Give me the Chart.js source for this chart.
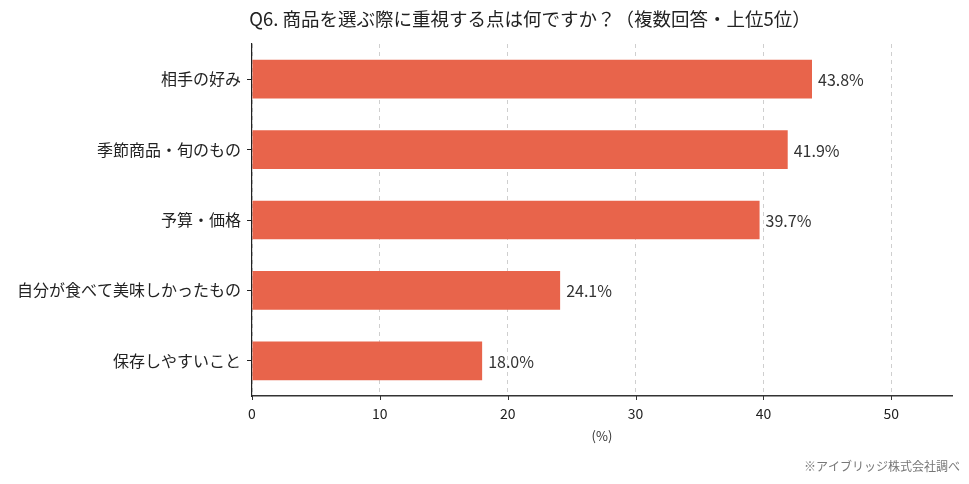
<!DOCTYPE html>
<html>
<head>
<meta charset="utf-8">
<script src="https://cdn.jsdelivr.net/npm/chart.js@4"></script>
<style>
  html, body { margin: 0; padding: 0; background: #fff; }
  #wrap { width: 969px; height: 484px; }
</style>
</head>
<body>
<div id="wrap"><canvas id="myChart" width="969" height="484"></canvas></div>
<script>
const categories = ['相手の好み', '季節商品・旬のもの', '予算・価格', '自分が食べて美味しかったもの', '保存しやすいこと'];
const values = [43.8, 41.9, 39.7, 24.1, 18.0];
const xTicks = [0, 10, 20, 30, 40, 50];
const titleText = 'Q6. 商品を選ぶ際に重視する点は何ですか？（複数回答・上位5位）';
const noteText = '※アイブリッジ株式会社調べ';

const FONT = '"Noto Sans CJK JP", "Noto Sans", sans-serif';
const barColor = '#e8644b';

// value labels, title and footnote, plus small tick marks under the x axis
const extras = {
    id: 'extras',
    afterDatasetsDraw(chart) {
        const ctx = chart.ctx;
        const meta = chart.getDatasetMeta(0);
        const xs = chart.scales.x;
        ctx.save();
        ctx.strokeStyle = '#333';
        ctx.lineWidth = 1;
        xTicks.forEach(function (v) {
            const px = Math.round(xs.getPixelForValue(v)) + 0.5;
            ctx.beginPath();
            ctx.moveTo(px, xs.top);
            ctx.lineTo(px, xs.top + 4);
            ctx.stroke();
        });
        ctx.font = '16px ' + FONT;
        ctx.fillStyle = '#333';
        ctx.textAlign = 'left';
        ctx.textBaseline = 'middle';
        meta.data.forEach(function (bar, i) {
            ctx.fillText(values[i].toFixed(1) + '%', bar.x + 6, bar.y + 1);
        });
        ctx.font = '18.5px ' + FONT;
        ctx.fillStyle = '#222';
        ctx.textAlign = 'center';
        ctx.fillText(titleText, 530, 19);
        ctx.font = '12px ' + FONT;
        ctx.fillStyle = '#777';
        ctx.textAlign = 'right';
        ctx.fillText(noteText, 960, 466);
        ctx.restore();
    }
};

const data = {
    labels: categories,
    datasets: [{
        data: values,
        backgroundColor: barColor,
        borderWidth: 0,
        barPercentage: 0.55,
        categoryPercentage: 1.0
    }]
};

const config = {
    type: 'bar',
    data: data,
    options: {
        indexAxis: 'y',
        responsive: false,
        animation: false,
        layout: { padding: { top: 44, right: 17, bottom: 38, left: 0 } },
        plugins: {
            legend: { display: false },
            tooltip: { enabled: false }
        },
        scales: {
            x: {
                min: 0,
                max: 54.75,
                afterBuildTicks: function (scale) {
                    scale.ticks = xTicks.map(function (v) { return { value: v }; });
                },
                afterFit: function (scale) { scale.height = 50; },
                grid: {
                    color: '#cfcfcf',
                    lineWidth: 1,
                    drawTicks: false
                },
                border: { display: true, color: '#333', width: 1.5, dash: [4, 4] },
                ticks: {
                    padding: 9,
                    color: '#222',
                    font: { family: FONT, size: 14 }
                },
                title: {
                    display: true,
                    text: '(%)',
                    color: '#333',
                    font: { family: FONT, size: 13 },
                    padding: { top: 2, bottom: 2 }
                }
            },
            y: {
                afterFit: function (scale) { scale.width = 252; },
                grid: {
                    offset: false,
                    drawOnChartArea: false,
                    drawTicks: true,
                    tickLength: 5,
                    color: '#222'
                },
                border: { display: true, color: '#222', width: 1.2 },
                ticks: {
                    padding: 6,
                    color: '#222',
                    font: { family: FONT, size: 16 }
                }
            }
        }
    },
    plugins: [extras]
};

const myChart = new Chart(document.getElementById('myChart').getContext('2d'), config);
</script>
</body>
</html>
